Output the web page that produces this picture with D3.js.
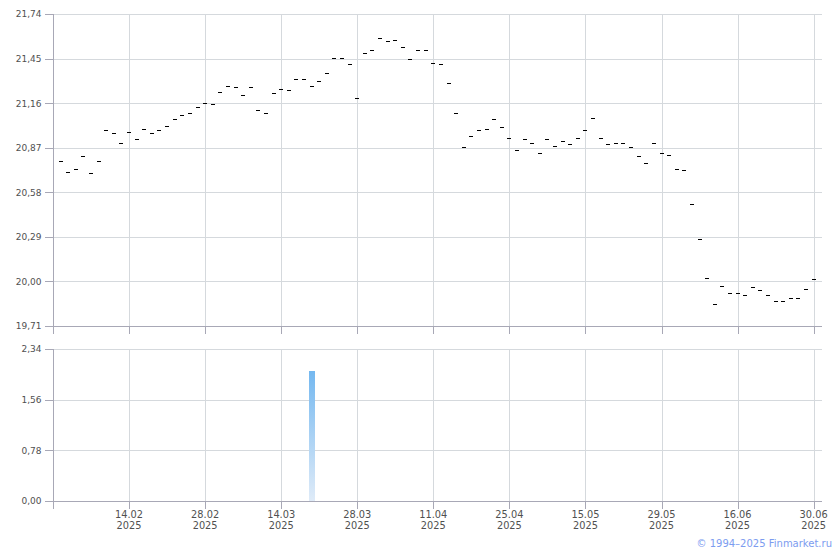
<!DOCTYPE html>
<html><head><meta charset="utf-8">
<script src="https://cdn.jsdelivr.net/npm/d3@7"></script>
<style>body{margin:0;background:#fff} svg{display:block}</style>
</head><body><svg id="c" width="840" height="550"></svg>
<script>
// Daily close prices, one per trading day (index 0 .. 99)
const prices = [
  20.784, 20.710, 20.731, 20.818, 20.705, 20.784, 20.985, 20.966, 20.901, 20.970,
  20.927, 20.992, 20.966, 20.985, 21.011, 21.057, 21.081, 21.096, 21.135, 21.159,
  21.154, 21.232, 21.272, 21.263, 21.213, 21.265, 21.117, 21.096, 21.226, 21.250,
  21.245, 21.315, 21.315, 21.270, 21.304, 21.356, 21.452, 21.452, 21.413, 21.192,
  21.484, 21.504, 21.582, 21.562, 21.569, 21.523, 21.445, 21.504, 21.504, 21.419,
  21.413, 21.289, 21.094, 20.873, 20.944, 20.983, 20.990, 21.055, 21.003, 20.931,
  20.853, 20.925, 20.899, 20.834, 20.925, 20.879, 20.912, 20.892, 20.933, 20.983,
  21.061, 20.931, 20.892, 20.899, 20.899, 20.873, 20.814, 20.769, 20.899, 20.834,
  20.821, 20.730, 20.723, 20.502, 20.274, 20.020, 19.851, 19.968, 19.923, 19.923,
  19.910, 19.962, 19.942, 19.910, 19.871, 19.871, 19.890, 19.890, 19.949, 20.014
];
// Volume bars (trading-day index, value)
const volumeIdx = [33];
const volumeVal = [2.0];
// X tick positions (trading-day index) and labels
const xTickIdx = [9, 19, 29, 39, 49, 59, 69, 79, 89, 99];
const xTickLabels = ["14.02","28.02","14.03","28.03","11.04","25.04","15.05","29.05","16.06","30.06"];
const xTickYears = ["2025","2025","2025","2025","2025","2025","2025","2025","2025","2025"];
const priceTicks = [19.71, 20.00, 20.29, 20.58, 20.87, 21.16, 21.45, 21.74];
const volumeTicks = [0.00, 0.78, 1.56, 2.34];
const copyright = "© 1994–2025 Finmarket.ru";

const svg = d3.select("#c");
const L = 53, R = 822;
const GRID = "#d5d9dd", AXIS = "#a8a8b6", TXT = "#505050";
const FONT = "DejaVu Sans, Verdana, sans-serif";

const x = d3.scaleLinear().domain([-1, 100.1]).range([L, R]);
const yP = d3.scaleLinear().domain([19.71, 21.74]).range([326, 14]);
const yV = d3.scaleLinear().domain([0, 2.34]).range([501, 349]);
const fmt = d => d.toFixed(2).replace(".", ",");
const px = v => Math.round(v) + 0.5;

// gradient for volume bars
const defs = svg.append("defs");
const grad = defs.append("linearGradient").attr("id","vg").attr("x1",0).attr("y1",0).attr("x2",0).attr("y2",1);
grad.append("stop").attr("offset","0%").attr("stop-color","#74b8f0");
grad.append("stop").attr("offset","100%").attr("stop-color","#dfebf8");

function panel(y, ticks) {
  const [bottom, top] = y.range();
  const g = svg.append("g").attr("shape-rendering","crispEdges");
  // horizontal grid
  g.selectAll(null).data(ticks).join("line")
    .attr("x1", L).attr("x2", R)
    .attr("y1", d => px(y(d))).attr("y2", d => px(y(d)))
    .attr("stroke", GRID);
  // vertical grid
  g.selectAll(null).data(xTickIdx).join("line")
    .attr("x1", d => px(x(d))).attr("x2", d => px(x(d)))
    .attr("y1", top).attr("y2", bottom)
    .attr("stroke", GRID);
  // left axis
  const ya = d3.axisLeft(y).tickValues(ticks).tickFormat(fmt).tickSize(9).tickSizeOuter(0).tickPadding(3);
  const ag = svg.append("g").attr("transform", `translate(${Math.round(L)+0.5},0)`).call(ya);
  ag.select(".domain").remove();
  ag.selectAll(".tick line").attr("stroke", AXIS).attr("shape-rendering","crispEdges")
    .attr("transform", function(){ return null; });
  ag.selectAll(".tick text").attr("fill", TXT).attr("font-family", FONT).attr("font-size", 9);
  // bottom axis with ticks (including start tick at axis origin)
  const xa = d3.axisBottom(x).tickValues([-1, ...xTickIdx]).tickFormat("").tickSize(7).tickSizeOuter(0);
  const bg = svg.append("g").attr("transform", `translate(0,${Math.round(bottom)+0.5})`).call(xa);
  bg.select(".domain").remove();
  bg.selectAll(".tick").attr("transform", d => `translate(${px(x(d))},0)`);
  bg.selectAll(".tick line").attr("stroke", AXIS).attr("shape-rendering","crispEdges");
  // axis lines
  g.append("line").attr("x1", L).attr("x2", R).attr("y1", px(bottom)).attr("y2", px(bottom)).attr("stroke", AXIS);
  g.append("line").attr("x1", px(L)).attr("x2", px(L)).attr("y1", top).attr("y2", bottom).attr("stroke", AXIS);
}

panel(yP, priceTicks);
panel(yV, volumeTicks);

// price dashes
svg.append("g").attr("shape-rendering","crispEdges")
  .selectAll("line").data(prices).join("line")
  .attr("x1", (d,i) => Math.round(x(i)) - 2).attr("x2", (d,i) => Math.round(x(i)) + 2)
  .attr("y1", d => px(yP(d))).attr("y2", d => px(yP(d)))
  .attr("stroke", "#000").attr("stroke-width", 1);

// volume bars
svg.append("g").attr("shape-rendering","crispEdges")
  .selectAll("rect").data(volumeIdx).join("rect")
  .attr("x", (d) => Math.round(x(d)) - 3)
  .attr("width", 6)
  .attr("y", (d,i) => Math.round(yV(volumeVal[i])))
  .attr("height", (d,i) => Math.round(yV(0)) - Math.round(yV(volumeVal[i])))
  .attr("fill", "url(#vg)");

// x labels (two lines)
const lab = svg.append("g").attr("font-family", FONT).attr("font-size", 9.8).attr("fill", TXT).attr("text-anchor","middle");
lab.selectAll(null).data(xTickIdx).join("text")
  .attr("x", d => x(d)).attr("y", 517.5).text((d,i) => xTickLabels[i]);
lab.selectAll(null).data(xTickIdx).join("text")
  .attr("x", d => x(d)).attr("y", 529).text((d,i) => xTickYears[i]);

svg.append("text").attr("x", 832).attr("y", 546.5).attr("text-anchor","end")
  .attr("font-family", FONT).attr("font-size", 10).attr("fill", "#7c9cf0").text(copyright);
</script>
</body></html>
